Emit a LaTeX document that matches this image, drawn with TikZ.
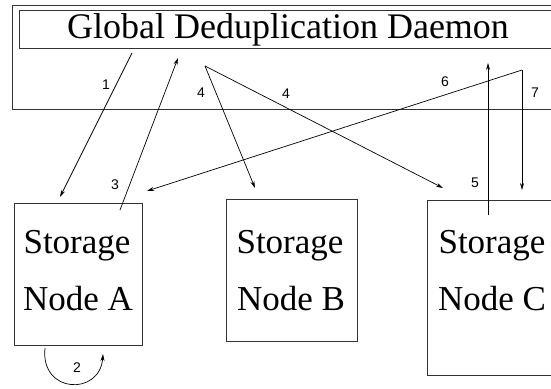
\documentclass[tikz,border=0pt]{standalone}
\usepackage{fontspec}
\setmainfont{Liberation Serif}
\newfontfamily\numfont{Liberation Sans}
\usetikzlibrary{arrows.meta}
\tikzset{
  frame/.style={draw=black!80, line width=0.9pt, inner sep=0pt, anchor=north west},
  big/.style={font=\fontsize{35}{42}\selectfont, inner sep=0pt, anchor=base},
  num/.style={font=\numfont\fontsize{14}{16}\selectfont, inner sep=0pt},
  flow/.style={draw=black, line width=0.7pt, -{Stealth[length=7pt,width=4pt]}},
  plain/.style={draw=black, line width=0.7pt}
}
\begin{document}
\begin{tikzpicture}[x=1pt,y=-1pt]
\useasboundingbox[fill=white] (0,0) rectangle (551,388);
% frames
\node[frame, minimum width=560pt, minimum height=104pt] (outer) at (12,5) {};
\node[frame, minimum width=560pt, minimum height=38pt] (gdd) at (19,9.5) {};
\node[big, font=\fontsize{36}{42}\selectfont] (title) at (288,38) {Global Deduplication Daemon};
% storage nodes
\node[frame, minimum width=128pt, minimum height=142pt] (A) at (14,203) {};
\node[frame, minimum width=131pt, minimum height=142pt] (B) at (226,199) {};
\node[frame, minimum width=140pt, minimum height=175pt] (C) at (427,200) {};
\node[big] (A1) at (77,253) {Storage};
\node[big] (A2) at (78,310) {Node A};
\node[big] (B1) at (290,253) {Storage};
\node[big] (B2) at (291,310) {Node B};
\node[big] (C1) at (492,253) {Storage};
\node[big] (C2) at (492,310) {Node C};
% connector end points
\coordinate (s1) at (132,53);
\coordinate (e1) at (60,197);
\coordinate (s3) at (120,210);
\coordinate (e3) at (178,58);
\coordinate (s4) at (205,66);
\coordinate (e4a) at (255,188);
\coordinate (e4b) at (443,188);
\coordinate (s5) at (488,215);
\coordinate (e5) at (488,63);
\coordinate (s67) at (522,70);
\coordinate (e6) at (147,191);
\coordinate (e7) at (522,190);
\coordinate (s2) at (45,348);
\coordinate (e2) at (103,354);
% connectors
\draw[flow] (s1) -- (e1);
\draw[flow] (s3) -- (e3);
\draw[flow] (s4) -- (e4a);
\draw[flow] (s4) -- (e4b);
\draw[flow] (s5) -- (e5);
\draw[flow] (s67) -- (e6);
\draw[flow] (s67) -- (e7);
\draw[flow] (s2) .. controls (40,394) and (100,396) .. (e2);
% labels
\node[num] (n1) at (106,85) {1};
\node[num] (n4a) at (201,93) {4};
\node[num] (n4b) at (286,94) {4};
\node[num] (n3) at (115,185) {3};
\node[num] (n6) at (445,82) {6};
\node[num] (n7) at (535,93) {7};
\node[num] (n5) at (475,183) {5};
\node[num] (n2) at (77,368) {2};
\end{tikzpicture}
\end{document}
